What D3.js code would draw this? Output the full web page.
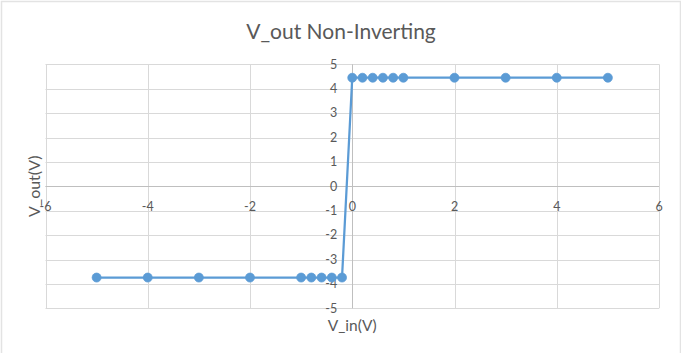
<!DOCTYPE html>
<html><head><meta charset="utf-8">
<script src="https://cdn.jsdelivr.net/npm/d3@7"></script>
<style>body{margin:0;background:#fff}svg{display:block}</style>
</head><body>
<svg id="c" width="681" height="356"></svg>
<script>
const vin  = [-5, -4, -3, -2, -1, -0.8, -0.6, -0.4, -0.2, 0, 0.2, 0.4, 0.6, 0.8, 1, 2, 3, 4, 5];
const vout = [-3.74, -3.74, -3.74, -3.74, -3.74, -3.74, -3.74, -3.74, -3.74, 4.45, 4.45, 4.45, 4.45, 4.45, 4.45, 4.45, 4.45, 4.45, 4.45];
const xTicks = [-6, -4, -2, 0, 2, 4, 6];
const yTicks = [-5, -4, -3, -2, -1, 0, 1, 2, 3, 4, 5];
const title = "V_out Non-Inverting";
const xTitle = "V_in(V)";
const yTitle = "V_out(V)";

const svg = d3.select("#c");
const font = "Lato, 'Open Sans', sans-serif";
const x = d3.scaleLinear().domain([-6, 6]).range([45.5, 659]);
const y = d3.scaleLinear().domain([-5, 5]).range([308.3, 64.3]);

// chart border
svg.append("path").attr("d", "M1.5,353 L1.5,1.5 L680.5,1.5 L680.5,353")
  .attr("fill", "none").attr("stroke", "#e3e3e3").attr("stroke-width", 1.5);

// gridlines
svg.append("g").selectAll("line").data(xTicks).join("line")
  .attr("x1", d => Math.round(x(d)) + 0.5).attr("x2", d => Math.round(x(d)) + 0.5)
  .attr("y1", y(5)).attr("y2", y(-5))
  .attr("stroke", "#d9d9d9").attr("stroke-width", 1);
svg.append("g").selectAll("line").data(yTicks).join("line")
  .attr("y1", d => Math.round(y(d)) + 0.5).attr("y2", d => Math.round(y(d)) + 0.5)
  .attr("x1", x(-6)).attr("x2", x(6))
  .attr("stroke", "#d9d9d9").attr("stroke-width", 1);

// axis lines at zero
svg.append("line").attr("x1", x(-6)).attr("x2", x(6))
  .attr("y1", Math.round(y(0)) + 0.5).attr("y2", Math.round(y(0)) + 0.5)
  .attr("stroke", "#bfbfbf");
svg.append("line").attr("y1", y(5)).attr("y2", y(-5))
  .attr("x1", Math.round(x(0)) + 0.5).attr("x2", Math.round(x(0)) + 0.5)
  .attr("stroke", "#bfbfbf");

// tick labels
svg.append("g").selectAll("text").data(xTicks).join("text")
  .attr("x", d => x(d)).attr("y", y(0) + 25)
  .attr("text-anchor", "middle")
  .attr("font-family", font).attr("font-size", 12.5).attr("fill", "#595959")
  .text(d => d);
svg.append("g").selectAll("text").data(yTicks).join("text")
  .attr("x", x(0) - 15).attr("y", d => y(d) + 4.3)
  .attr("text-anchor", "end")
  .attr("font-family", font).attr("font-size", 12.5).attr("fill", "#595959")
  .text(d => d);

// series
const pts = vin.map((v, i) => [v, vout[i]]);
svg.append("path").datum(pts)
  .attr("d", d3.line().x(d => x(d[0])).y(d => y(d[1])))
  .attr("fill", "none").attr("stroke", "#5b9bd5").attr("stroke-width", 2.25)
  .attr("stroke-linejoin", "round");
svg.append("g").selectAll("circle").data(pts).join("circle")
  .attr("cx", d => x(d[0])).attr("cy", d => y(d[1])).attr("r", 4.5)
  .attr("fill", "#5b9bd5").attr("stroke", "#5b9bd5").attr("stroke-width", 0.75);

// titles
svg.append("text").attr("x", 341).attr("y", 39).attr("text-anchor", "middle")
  .attr("font-family", font).attr("font-size", 21).attr("fill", "#595959").text(title);
svg.append("text").attr("x", (x(-6) + x(6)) / 2).attr("y", 331).attr("text-anchor", "middle")
  .attr("font-family", font).attr("font-size", 15.5).attr("fill", "#595959").text(xTitle);
svg.append("text").attr("transform", `translate(39.5,${(y(5) + y(-5)) / 2}) rotate(-90)`)
  .attr("text-anchor", "middle")
  .attr("font-family", font).attr("font-size", 16).attr("fill", "#595959").text(yTitle);
</script>
</body></html>
